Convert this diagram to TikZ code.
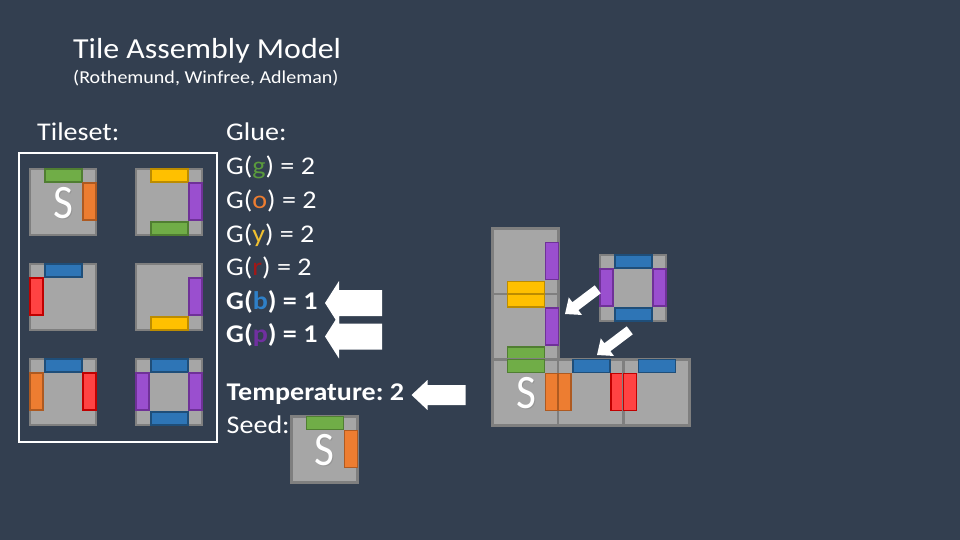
\documentclass[tikz,border=0pt]{standalone}
\usepackage{fontspec}
\setmainfont{Carlito}[FakeStretch=1.1]
\newfontfamily\sfontfam{Carlito}
\frenchspacing
\definecolor{bg}{HTML}{333F50}
\definecolor{tilefill}{HTML}{A6A6A6}
\definecolor{tileline}{HTML}{7F7F7F}
\definecolor{cG}{HTML}{70AD47}\definecolor{sG}{HTML}{507E32}
\definecolor{cO}{HTML}{ED7D31}\definecolor{sO}{HTML}{AE5A21}
\definecolor{cY}{HTML}{FFC000}\definecolor{sY}{HTML}{BC8C00}
\definecolor{cP}{HTML}{9A4FCF}\definecolor{sP}{HTML}{6F3198}
\definecolor{cB}{HTML}{2E75B6}\definecolor{sB}{HTML}{1F4E79}
\definecolor{cR}{HTML}{FF4343}\definecolor{sR}{HTML}{C00000}
\definecolor{tG}{HTML}{5A9A3C}
\definecolor{tO}{HTML}{ED7D31}
\definecolor{tY}{HTML}{F0C030}
\definecolor{tR}{HTML}{A01818}
\definecolor{tB}{HTML}{2F80C8}
\definecolor{tP}{HTML}{7030A0}
\tikzset{
  tile/.style={fill=tilefill,draw=tileline,line width=2.2pt},
  gG/.style={fill=cG,draw=sG,line width=1.3pt},
  gO/.style={fill=cO,draw=sO,line width=1.3pt},
  gY/.style={fill=cY,draw=sY,line width=1.3pt},
  gP/.style={fill=cP,draw=sP,line width=1.3pt},
  gB/.style={fill=cB,draw=sB,line width=1.3pt},
  gR/.style={fill=cR,draw=sR,line width=1.3pt},
  txt/.style={anchor=base west,inner sep=0pt,text=white,font=\fontsize{25.5}{30}\selectfont},
  seedS/.style={inner sep=0pt,text=white,font=\sfontfam\fontsize{48}{52}\selectfont},
  blockarrow/.style={fill=white}
}
% tile at top-left corner
\newcommand\tileat[2]{\draw[tile] (#1,#2) rectangle ++(66,66);}
\newcommand\btop[3]{\draw[#3] (#1+15,#2) rectangle ++(37,13);}
\newcommand\bbot[3]{\draw[#3] (#1+15,#2+53) rectangle ++(37,13);}
\newcommand\bleft[3]{\draw[#3] (#1,#2+14) rectangle ++(13,37);}
\newcommand\bright[3]{\draw[#3] (#1+53,#2+14) rectangle ++(13,37);}
\newcommand\Sletter[3]{\node[seedS,text=black!45,opacity=0.6] at (#1+1.5,#2+1.5) {\scalebox{0.9}[1]{S}};\node[seedS] (#3) at (#1,#2) {\scalebox{0.9}[1]{S}};}
% block arrow: tip x, tip y, angle, length, head half, body half, head length
\newcommand\barrow[7]{\fill[blockarrow,shift={(#1,#2)},rotate=#3] (0,0) -- (#7,-#5) -- (#7,-#6) -- (#4,-#6) -- (#4,#6) -- (#7,#6) -- (#7,#5) -- cycle;}
\begin{document}
\begin{tikzpicture}[x=1pt,y=-1pt]
\fill[bg] (0,0) rectangle (960,540);
\useasboundingbox (0,0) rectangle (960,540);

% titles
\node[txt,font=\fontsize{29}{34}\selectfont] (title) at (73,58.3) {Tile Assembly Model};
\node[txt,font=\fontsize{18.2}{22}\selectfont] (authors) at (73,84) {(Rothemund, Winfree, Adleman)};

\node[txt] (tileset) at (37,141) {Tileset:};
\draw[white,line width=2pt] (18.5,153) rectangle (217,442);

% tileset
\tileat{30}{169}\btop{30}{169}{gG}\bright{30}{169}{gO}\Sletter{63}{203}{s1}
\tileat{136}{169}\btop{136}{169}{gY}\bright{136}{169}{gP}\bbot{136}{169}{gG}
\tileat{30}{264}\btop{30}{264}{gB}\bleft{30}{264}{gR}
\tileat{136}{264}\bright{136}{264}{gP}\bbot{136}{264}{gY}
\tileat{30}{359}\btop{30}{359}{gB}\bleft{30}{359}{gO}\bright{30}{359}{gR}
\tileat{136}{359}\btop{136}{359}{gB}\bleft{136}{359}{gP}\bright{136}{359}{gP}\bbot{136}{359}{gB}

% glue
\node[txt] (glue) at (226,141) {Glue:};
\node[txt] (gg) at (226,175) {G(\textcolor{tG}{g}) = 2};
\node[txt] (go) at (226,208.5) {G(\textcolor{tO}{o}) = 2};
\node[txt] (gy) at (226,242) {G(\textcolor{tY}{y}) = 2};
\node[txt] (gr) at (226,275.5) {G(\textcolor{tR}{r}) = 2};
\node[txt] (gb) at (226,309) {\bfseries G(\textcolor{tB}{b}) = 1};
\node[txt] (gp) at (226,342.5) {\bfseries G(\textcolor{tP}{p}) = 1};
\node[txt] (temp) at (226.5,400.5) {\bfseries Temperature: 2};
\node[txt] (seed) at (226.5,433.5) {Seed:};

\barrow{325}{303}{0}{57}{22}{13}{14}
\barrow{325}{336.5}{0}{57}{22}{13}{14}
\barrow{411.5}{395}{0}{54}{15}{10}{16}

% seed tile
\tileat{291.5}{416.5}\btop{291.5}{416.5}{gG}\bright{291.5}{416.5}{gO}\Sletter{324}{450}{s2}

% assembly
\tileat{492.5}{228.5}\bright{492.5}{228.5}{gP}\bbot{492.5}{228.5}{gY}
\tileat{492.5}{294}\btop{492.5}{294}{gY}\bright{492.5}{294}{gP}\bbot{492.5}{294}{gG}
\tileat{492.5}{359.5}\btop{492.5}{359.5}{gG}\bright{492.5}{359.5}{gO}\Sletter{526}{393}{s3}
\tileat{558}{359.5}\btop{558}{359.5}{gB}\bleft{558}{359.5}{gO}\bright{558}{359.5}{gR}
\tileat{623.5}{359.5}\btop{623.5}{359.5}{gB}\bleft{623.5}{359.5}{gR}

% floating tile
\tileat{600}{255}\btop{600}{255}{gB}\bleft{600}{255}{gP}\bright{600}{255}{gP}\bbot{600}{255}{gB}

\barrow{565}{314}{37}{41}{11}{5}{13}
\barrow{597}{355}{37}{41}{11}{5}{13}
\end{tikzpicture}
\end{document}
